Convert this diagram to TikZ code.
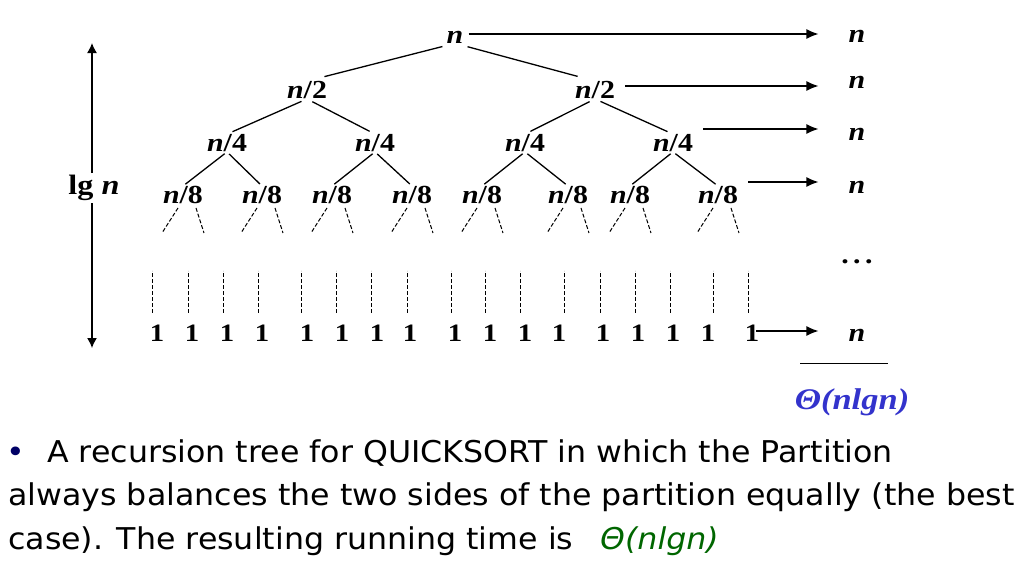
\documentclass[tikz,border=0pt]{standalone}
\usepackage{fontspec}
\setmainfont{Liberation Serif}
\newfontfamily\treefont[FakeStretch=1.15]{Liberation Serif}
\newfontfamily\bodyfont[FakeStretch=1.055]{DejaVu Sans}
\usetikzlibrary{arrows.meta}
\definecolor{thblue}{HTML}{3333CC}
\definecolor{thgreen}{HTML}{006600}
\definecolor{bulletnavy}{HTML}{000066}
\begin{document}
\begin{tikzpicture}[x=1pt,y=-1pt,
  lab/.style={font=\treefont\bfseries\fontsize{26}{26}\selectfont, inner sep=0pt},
  one/.style={font=\treefont\bfseries\fontsize{25}{25}\selectfont, inner sep=0pt},
  edge/.style={line width=1.3pt},
  arr/.style={line width=1.4pt, -{Latex[length=12pt,width=10pt]}},
  dsh/.style={line width=1pt, dash pattern=on 4pt off 2pt},
  body/.style={font=\bodyfont\fontsize{30}{33}\selectfont, inner sep=0pt, anchor=base west}]
\useasboundingbox (0,0) rectangle (1023,579);
% tree nodes
\node[lab] (r) at (455,37) {\itshape n};
\node[lab] (a1) at (307,90) {{\itshape n}/2};
\node[lab] (a2) at (595,90) {{\itshape n}/2};
\foreach \nm/\x in {b1/227,b2/375,b3/525,b4/673}
  \node[lab] (\nm) at (\x,143) {{\itshape n}/4};
\foreach \nm/\x in {c1/183,c2/262,c3/332,c4/412,c5/482,c6/568,c7/630,c8/718}
  \node[lab] (\nm) at (\x,195) {{\itshape n}/8};
% edges
\draw[edge, shorten <=13pt, shorten >=18pt] (r.south) -- (a1.north);
\draw[edge, shorten <=13pt, shorten >=18pt] (r.south) -- (a2.north);
\foreach \p/\c in {a1/b1,a1/b2,a2/b3,a2/b4}
  \draw[edge, shorten <=6pt, shorten >=6pt] (\p.south) -- (\c.north);
\foreach \p/\c in {b1/c1,b1/c2,b2/c3,b2/c4,b3/c5,b3/c6,b4/c7,b4/c8}
  \draw[edge, shorten <=3pt, shorten >=3pt] (\p.south) -- (\c.north);
% dashed stubs
\foreach \c in {c1,c2,c3,c4,c5,c6,c7,c8}{
  \draw[dsh] ([xshift=-5pt,yshift=-4pt]\c.south) -- ++(-16,25);
  \draw[dsh] ([xshift=13pt,yshift=-4pt]\c.south) -- ++(8,25);
}
% leaves
\foreach \i/\x/\d in {1/157/-5,2/192/-4,3/227/-4,4/262/-4,5/307/-6,6/342/-6,7/377/-6,8/410/-3,9/455/-4,10/490/-5,11/525/-5,12/559/5,13/603/-3,14/638/-3,15/673/-3,16/708/5,17/752/-4}{
  \node[one] (o\i) at (\x,333) {1};
  \draw[dsh] ([xshift=\d pt,yshift=12pt]o\i.north) -- ++(0,-42);
}
% right column
\node[lab] (n1) at (857,36) {\itshape n};
\node[lab] (n2) at (857,82) {\itshape n};
\node[lab] (n3) at (857,134) {\itshape n};
\node[lab] (n4) at (857,187) {\itshape n};
\node[lab] (dots) at (857,262) {.\,.\,.};
\node[lab] (n5) at (857,335) {\itshape n};
\path ([xshift=5pt,yshift=3pt]r.east) coordinate (s1);
\path ([xshift=10pt,yshift=4pt]a2.east) coordinate (s2);
\path ([xshift=10pt,yshift=14pt]b4.east) coordinate (s3);
\path ([xshift=10pt,yshift=13pt]c8.east) coordinate (s4);
\path ([xshift=-3pt,yshift=2pt]o17.east) coordinate (s5);
\foreach \s/\n in {s1/n1,s2/n2,s3/n3,s4/n4,s5/n5}
  \draw[arr, shorten >=30pt] (\s) -- (\s -| \n.west);
% underline and total
\path ([yshift=-22pt]n5.south) coordinate (u);
\draw[line width=1.3pt] (u -| 800,0) -- (u -| 888,0);
\node[lab, font=\treefont\bfseries\itshape\fontsize{30}{30}\selectfont, text=thblue] (tot) at (852,402) {Θ(nlgn)};
% left arrow
\node[font=\treefont\bfseries\fontsize{28}{28}\selectfont, inner xsep=0pt, inner ysep=2pt] (lg) at (94,188) {lg {\itshape n}};
\coordinate (ltop) at (92,43);
\coordinate (lbot) at (92,348);
\draw[arr, -{Latex[length=10pt,width=10pt]}] (ltop |- lg.north) -- (ltop);
\draw[arr, -{Latex[length=10pt,width=10pt]}] (lbot |- lg.south) -- (lbot);
% caption
\node[body, text=bulletnavy] (bul) at (6,462) {\textbullet};
\node[body] (l1) at (47,462) {A recursion tree for QUICKSORT in which the Partition};
\node[body] (l2) at (8,505) {always balances the two sides of the partition equally (the best};
\node[body] (l3) at (8,549) {case). The resulting running time is};
\node[body, text=thgreen] (l3b) at (600,549) {\itshape Θ(nlgn)};
\end{tikzpicture}
\end{document}
